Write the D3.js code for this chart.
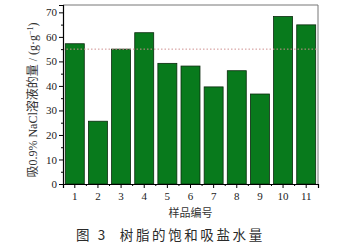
<!DOCTYPE html>
<html>
<head>
<meta charset="utf-8">
<script src="https://cdn.jsdelivr.net/npm/d3@7"></script>
<style>
  body { margin: 0; background: #fff; }
  svg text { font-family: "Liberation Serif", "DejaVu Serif", serif; }
  .cjk { font-family: "Noto Sans CJK SC", sans-serif; }
</style>
</head>
<body>
<svg id="chart" width="339" height="249"></svg>
<script>
// sample numbers and absorbed amounts (g/g)
const samples = ['1', '2', '3', '4', '5', '6', '7', '8', '9', '10', '11'];
const uptake = [57.2, 25.6, 55.0, 61.7, 49.2, 48.1, 39.6, 46.2, 36.7, 68.3, 64.9];
const refLine = 55;
const yTicks = [0, 10, 20, 30, 40, 50, 60, 70];

const svg = d3.select('#chart');
const margin = { left: 63, right: 21, top: 5, bottom: 65 };
const width = 339 - margin.left - margin.right;
const height = 249 - margin.top - margin.bottom;

const g = svg.append('g').attr('transform', `translate(${margin.left},${margin.top})`);

const x = d3.scaleBand().domain(samples).range([0, width]).paddingInner(0.18).paddingOuter(0.1);
const y = d3.scaleLinear().domain([0, 73]).range([height, 0]);

// frame top/right
g.append('path')
  .attr('d', `M0,0H${width}V${height}`)
  .attr('fill', 'none').attr('stroke', '#777').attr('stroke-width', 1);

// bars
g.selectAll('rect.bar').data(uptake).join('rect').classed('bar', true)
  .attr('x', (d, i) => x(samples[i]))
  .attr('width', x.bandwidth())
  .attr('y', d => y(d))
  .attr('height', d => height - y(d))
  .attr('fill', '#087a1c')
  .attr('stroke', '#0b2a0e')
  .attr('stroke-width', 0.8);

// reference dotted line
g.append('line')
  .attr('x1', 0).attr('x2', width)
  .attr('y1', y(refLine)).attr('y2', y(refLine))
  .attr('stroke', '#cf9090').attr('stroke-width', 1).attr('stroke-dasharray', '1.5,2');

// y axis with minor ticks
const yAxis = g.append('g').call(d3.axisLeft(y).tickValues(yTicks).tickSize(4).tickPadding(2));
g.append('g').call(d3.axisLeft(y).tickValues(d3.range(5, 73, 10)).tickSize(2).tickFormat(''))
  .select('.domain').remove();
yAxis.selectAll('text').attr('font-size', 11).attr('fill', '#222');
yAxis.select('.domain').attr('stroke-width', 1.2);

// x axis, ticks at bar centers and minor ticks between
const xAxis = g.append('g').attr('transform', `translate(0,${height})`)
  .call(d3.axisBottom(x).tickSize(4).tickPadding(4));
xAxis.selectAll('text').attr('font-size', 11).attr('fill', '#222');
xAxis.select('.domain').attr('stroke-width', 1.2);
const step = x.step();
g.append('g').selectAll('line').data(samples.slice(1)).join('line')
  .attr('x1', d => x(d) - (step - x.bandwidth()) / 2)
  .attr('x2', d => x(d) - (step - x.bandwidth()) / 2)
  .attr('y1', height).attr('y2', height + 2)
  .attr('stroke', '#000');

// axis titles
svg.append('text')
  .attr('transform', `translate(37,${margin.top + 95}) rotate(-90)`)
  .attr('text-anchor', 'middle').attr('font-size', 12).attr('fill', '#333')
  .html('<tspan class="cjk">吸</tspan>0.9% NaCl<tspan class="cjk">溶液的量</tspan> / (g·g<tspan dy="-4" font-size="8">−1</tspan><tspan dy="4">)</tspan>');

svg.append('text').attr('class', 'cjk')
  .attr('x', margin.left + width / 2).attr('y', 217)
  .attr('text-anchor', 'middle').attr('font-size', 11).attr('fill', '#333')
  .text('样品编号');

svg.append('text').attr('class', 'cjk')
  .attr('x', 76).attr('y', 240)
  .attr('font-size', 13.5).attr('fill', '#2a2a2a').attr('letter-spacing', 2.6)
  .html('图 3<tspan dx="12">树脂的饱和吸盐水量</tspan>');
</script>
</body>
</html>
